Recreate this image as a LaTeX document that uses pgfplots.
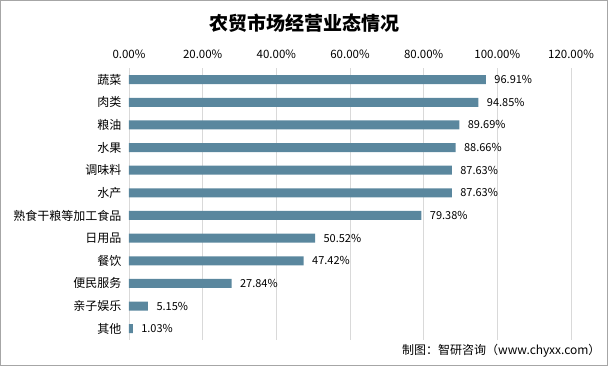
\documentclass[border=0pt]{standalone}
\usepackage{pgfplots}
\pgfplotsset{compat=1.18}
\usepackage{fontspec}
\setmainfont{Noto Sans CJK SC}
\definecolor{barc}{HTML}{5A879E}
\definecolor{gridc}{HTML}{D9D9D9}
\begin{document}
\begin{tikzpicture}[x=1pt,y=1pt]
\draw[draw=gray!70,line width=1pt] (0.5,0.5) rectangle (607.5,365.5);
\node[font=\fontsize{19}{19}\selectfont\bfseries] at (304,343) {农贸市场经营业态情况};
\node[anchor=east,font=\fontsize{12}{12}\selectfont] at (604,15) {制图：智研咨询（www.chyxx.com）};
\begin{axis}[
  at={(129pt,26pt)}, anchor=south west,
  scale only axis, width=442pt, height=271.7pt,
  xbar, bar width=9pt,
  xmin=0, xmax=120, ymin=-0.5, ymax=11.5,
  y dir=reverse,
  xtick={0,20,...,120},
  xticklabel pos=top,
  xticklabel={\pgfmathprintnumber[fixed,precision=2,fixed zerofill]{\tick}\%},
  /pgf/number format/assume math mode=true,
  ytick={0,...,11},
  yticklabels={蔬菜,肉类,粮油,水果,调味料,水产,熟食干粮等加工食品,日用品,餐饮,便民服务,亲子娱乐,其他},
  major tick length=0pt,
  axis line style={draw=none},
  xmajorgrids, grid style={gridc, line width=0.8pt},
  xticklabel style={font=\fontsize{11.5}{11.5}\selectfont, yshift=6pt},
  yticklabel style={font=\fontsize{12}{12}\selectfont, xshift=-4pt},
  nodes near coords={\pgfmathprintnumber[fixed,precision=2,fixed zerofill]{\pgfplotspointmeta}\%},
  nodes near coords style={font=\fontsize{11}{11}\selectfont, anchor=west, xshift=5pt},
  /pgf/number format/assume math mode=true,
]
\addplot[fill=barc, draw=none] coordinates {
(96.91,0) (94.85,1) (89.69,2) (88.66,3) (87.63,4) (87.63,5)
(79.38,6) (50.52,7) (47.42,8) (27.84,9) (5.15,10) (1.03,11)};
\end{axis}
\end{tikzpicture}
\end{document}
